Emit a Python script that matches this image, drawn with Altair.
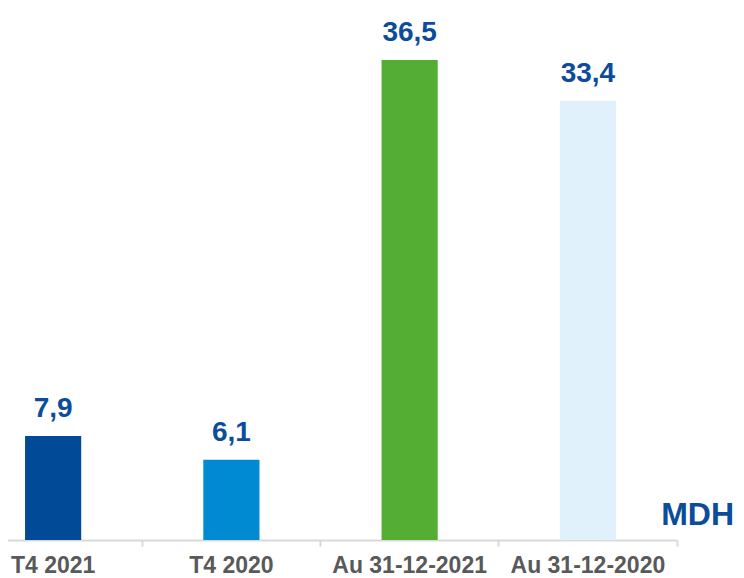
import altair as alt
import pandas as pd

categories = ["T4 2021", "T4 2020", "Au 31-12-2021", "Au 31-12-2020"]
values = [7.9, 6.1, 36.5, 33.4]
value_labels = ["7,9", "6,1", "36,5", "33,4"]
bar_colors = ["#004A98", "#008AD2", "#54AE34", "#E1F1FB"]
unit_label = "MDH"

df = pd.DataFrame({
    "cat": categories,
    "val": values,
    "lab": value_labels,
    "col": bar_colors,
})

FONT = "Liberation Sans"
TEXT_BLUE = "#0B4C9B"

x_enc = alt.X(
    "cat:N",
    sort=categories,
    scale=alt.Scale(range=[-44, 669], paddingInner=0, paddingOuter=0),
    axis=alt.Axis(
        title=None,
        labelAngle=0,
        labelFont=FONT,
        labelFontSize=23,
        labelFontWeight="bold",
        labelColor="#595959",
        labelBaseline="alphabetic",
        labelPadding=26,
        bandPosition=1,
        domainColor="#D9D9D9",
        domainWidth=2,
        tickColor="#D9D9D9",
        tickWidth=2,
        tickSize=6,
        grid=False,
    ),
)
y_enc = alt.Y("val:Q", scale=alt.Scale(domain=[0, 40]), axis=None)

bars = alt.Chart(df).mark_bar(width={"band": 0.315}).encode(
    x=x_enc,
    y=y_enc,
    color=alt.Color("col:N", scale=None),
)

labels = alt.Chart(df).mark_text(
    font=FONT,
    fontSize=28,
    fontWeight="bold",
    color=TEXT_BLUE,
    align="center",
    baseline="alphabetic",
    dy=-19,
).encode(x=alt.X("cat:N", sort=categories), y="val:Q", text="lab:N")

unit = alt.Chart(pd.DataFrame({"t": [unit_label]})).mark_text(
    font=FONT,
    fontSize=32,
    fontWeight="bold",
    color=TEXT_BLUE,
    align="right",
    baseline="alphabetic",
).encode(x=alt.value(726), y=alt.value(511), text="t:N")

chart = alt.layer(bars, labels, unit).properties(
    width=728,
    height=526,
    padding={"left": 0, "top": 6, "right": 0, "bottom": 36},
    autosize=alt.AutoSizeParams(type="none"),
).configure_view(stroke=None)

chart.save("out.html", embed_options={"renderer": "svg", "actions": False})
